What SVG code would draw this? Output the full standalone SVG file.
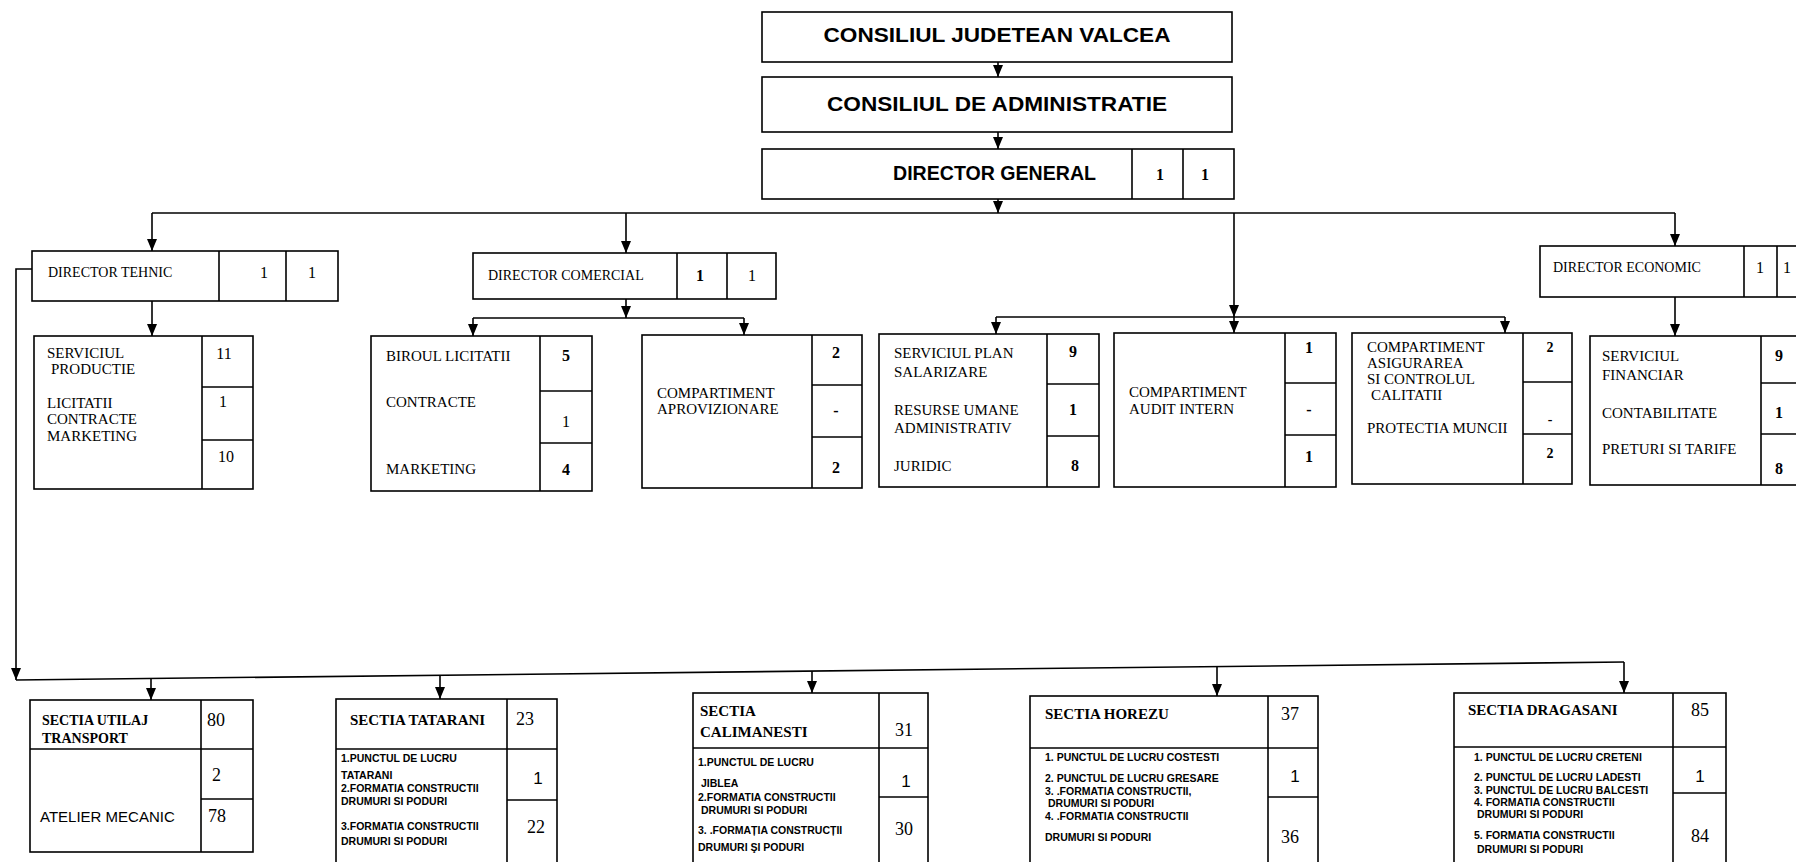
<svg xmlns="http://www.w3.org/2000/svg" width="1796" height="862" viewBox="0 0 1796 862">
<defs>
<marker id="ah" markerUnits="userSpaceOnUse" markerWidth="10" markerHeight="12" refX="5" refY="12" orient="0" viewBox="0 0 10 12">
<path d="M0,0 L10,0 L5,12 Z" fill="#000"/>
</marker>
<style>
.box{fill:#fff;stroke:#000;stroke-width:1.6}
.ln{stroke:#000;stroke-width:1.6;fill:none}
.c{stroke:#000;stroke-width:1.6;fill:none;marker-end:url(#ah)}
.h{font-family:"Liberation Sans",Arial,sans-serif;font-weight:bold;font-size:20px}
.t{font-family:"Liberation Serif","Times New Roman",serif;font-size:15px}
.d{font-family:"Liberation Serif","Times New Roman",serif;font-size:14px}
.tb{font-family:"Liberation Serif","Times New Roman",serif;font-size:15px;font-weight:bold}
.n{font-family:"Liberation Serif","Times New Roman",serif;font-size:16px;text-anchor:middle}
.nb{font-family:"Liberation Serif","Times New Roman",serif;font-size:16px;font-weight:bold;text-anchor:middle}
.N{font-family:"Liberation Serif","Times New Roman",serif;font-size:18px}
.s{font-family:"Liberation Sans",Arial,sans-serif;font-weight:bold;font-size:10.5px}
.ns{font-family:"Liberation Sans",Arial,sans-serif;font-size:17px;text-anchor:middle}
.a{font-family:"Liberation Sans",Arial,sans-serif;font-size:15px}
</style>
</defs>

<g id="connectors">
<line class="c" x1="998" y1="62" x2="998" y2="77"/>
<line class="c" x1="998" y1="132" x2="998" y2="149"/>
<line class="c" x1="998" y1="199" x2="998" y2="213"/>
<polyline class="ln" points="152,213 1675,213"/>
<line class="c" x1="152" y1="213" x2="152" y2="251"/>
<line class="c" x1="626" y1="213" x2="626" y2="253"/>
<line class="c" x1="1675" y1="213" x2="1675" y2="246"/>
<line class="c" x1="1234" y1="213" x2="1234" y2="317"/>
<polyline class="ln" points="996,317 1505,317"/>
<line class="c" x1="996" y1="317" x2="996" y2="334"/>
<line class="c" x1="1234" y1="317" x2="1234" y2="333"/>
<line class="c" x1="1505" y1="317" x2="1505" y2="333"/>
<line class="c" x1="152" y1="301" x2="152" y2="336"/>
<line class="c" x1="626" y1="299" x2="626" y2="318"/>
<polyline class="ln" points="473,318 744,318"/>
<line class="c" x1="473" y1="318" x2="473" y2="336"/>
<line class="c" x1="744" y1="318" x2="744" y2="335"/>
<line class="c" x1="1675" y1="297" x2="1675" y2="336"/>
<polyline class="c" points="32,269 16,269 16,680"/>
<polyline class="ln" points="16,680 1624,662"/>
<line class="c" x1="151" y1="678" x2="151" y2="700"/>
<line class="c" x1="440" y1="675" x2="440" y2="699"/>
<line class="c" x1="812" y1="671" x2="812" y2="693"/>
<line class="c" x1="1217" y1="667" x2="1217" y2="696"/>
<line class="c" x1="1624" y1="662" x2="1624" y2="693"/>
</g>

<g id="consiliul-judetean">
<rect class="box" x="762" y="12" width="470" height="50"/>
<text class="h" x="997" y="42" text-anchor="middle" textLength="347" lengthAdjust="spacingAndGlyphs">CONSILIUL JUDETEAN VALCEA</text>
</g>
<g id="consiliul-administratie">
<rect class="box" x="762" y="77" width="470" height="55"/>
<text class="h" x="997" y="111" text-anchor="middle" textLength="340" lengthAdjust="spacingAndGlyphs">CONSILIUL DE ADMINISTRATIE</text>
</g>
<g id="director-general">
<rect class="box" x="762" y="149" width="472" height="50"/>
<line class="ln" x1="1132" y1="149" x2="1132" y2="199"/>
<line class="ln" x1="1183" y1="149" x2="1183" y2="199"/>
<text class="h" x="893" y="180" textLength="203" lengthAdjust="spacingAndGlyphs">DIRECTOR GENERAL</text>
<text class="nb" x="1160" y="180">1</text>
<text class="nb" x="1205" y="180">1</text>
</g>

<g id="director-tehnic">
<rect class="box" x="32" y="251" width="306" height="50"/>
<line class="ln" x1="219" y1="251" x2="219" y2="301"/>
<line class="ln" x1="286" y1="251" x2="286" y2="301"/>
<text class="d" x="48" y="277">DIRECTOR TEHNIC</text>
<text class="n" x="264" y="278">1</text>
<text class="n" x="312" y="278">1</text>
</g>
<g id="director-comercial">
<rect class="box" x="473" y="253" width="303" height="46"/>
<line class="ln" x1="677" y1="253" x2="677" y2="299"/>
<line class="ln" x1="727" y1="253" x2="727" y2="299"/>
<text class="d" x="488" y="280">DIRECTOR COMERCIAL</text>
<text class="nb" x="700" y="281">1</text>
<text class="n" x="752" y="281">1</text>
</g>
<g id="director-economic">
<rect class="box" x="1540" y="246" width="270" height="51"/>
<line class="ln" x1="1744" y1="246" x2="1744" y2="297"/>
<line class="ln" x1="1777" y1="246" x2="1777" y2="297"/>
<text class="d" x="1553" y="272">DIRECTOR ECONOMIC</text>
<text class="n" x="1760" y="273">1</text>
<text class="n" x="1787" y="273">1</text>
</g>

<g id="serviciul-productie">
<rect class="box" x="34" y="336" width="219" height="153"/>
<line class="ln" x1="202" y1="336" x2="202" y2="489"/>
<line class="ln" x1="202" y1="387" x2="253" y2="387"/>
<line class="ln" x1="202" y1="440" x2="253" y2="440"/>
<text class="t" x="47" y="358">SERVICIUL</text>
<text class="t" x="51" y="374">PRODUCTIE</text>
<text class="t" x="47" y="408">LICITATII</text>
<text class="t" x="47" y="424">CONTRACTE</text>
<text class="t" x="47" y="441">MARKETING</text>
<text class="n" x="224" y="359">11</text>
<text class="n" x="223" y="407">1</text>
<text class="n" x="226" y="462">10</text>
</g>

<g id="biroul-licitatii">
<rect class="box" x="371" y="336" width="221" height="155"/>
<line class="ln" x1="540" y1="336" x2="540" y2="491"/>
<line class="ln" x1="540" y1="391" x2="592" y2="391"/>
<line class="ln" x1="540" y1="443" x2="592" y2="443"/>
<text class="t" x="386" y="361">BIROUL LICITATII</text>
<text class="t" x="386" y="407">CONTRACTE</text>
<text class="t" x="386" y="474">MARKETING</text>
<text class="nb" x="566" y="361">5</text>
<text class="n" x="566" y="427">1</text>
<text class="nb" x="566" y="475">4</text>
</g>

<g id="compartiment-aprovizionare">
<rect class="box" x="642" y="335" width="220" height="153"/>
<line class="ln" x1="812" y1="335" x2="812" y2="488"/>
<line class="ln" x1="812" y1="385" x2="862" y2="385"/>
<line class="ln" x1="812" y1="437" x2="862" y2="437"/>
<text class="t" x="657" y="398">COMPARTIMENT</text>
<text class="t" x="657" y="414">APROVIZIONARE</text>
<text class="nb" x="836" y="358">2</text>
<text class="nb" x="836" y="416">-</text>
<text class="nb" x="836" y="473">2</text>
</g>

<g id="serviciul-plan">
<rect class="box" x="879" y="334" width="220" height="153"/>
<line class="ln" x1="1047" y1="334" x2="1047" y2="487"/>
<line class="ln" x1="1047" y1="384" x2="1099" y2="384"/>
<line class="ln" x1="1047" y1="436" x2="1099" y2="436"/>
<text class="t" x="894" y="358">SERVICIUL PLAN</text>
<text class="t" x="894" y="377">SALARIZARE</text>
<text class="t" x="894" y="415">RESURSE UMANE</text>
<text class="t" x="894" y="433">ADMINISTRATIV</text>
<text class="t" x="894" y="471">JURIDIC</text>
<text class="nb" x="1073" y="357">9</text>
<text class="nb" x="1073" y="415">1</text>
<text class="nb" x="1075" y="471">8</text>
</g>

<g id="audit-intern">
<rect class="box" x="1114" y="333" width="222" height="154"/>
<line class="ln" x1="1285" y1="333" x2="1285" y2="487"/>
<line class="ln" x1="1285" y1="383" x2="1336" y2="383"/>
<line class="ln" x1="1285" y1="435" x2="1336" y2="435"/>
<text class="t" x="1129" y="397">COMPARTIMENT</text>
<text class="t" x="1129" y="414">AUDIT INTERN</text>
<text class="nb" x="1309" y="353">1</text>
<text class="nb" x="1309" y="415">-</text>
<text class="nb" x="1309" y="462">1</text>
</g>

<g id="asigurarea-calitatii">
<rect class="box" x="1352" y="333" width="220" height="151"/>
<line class="ln" x1="1523" y1="333" x2="1523" y2="484"/>
<line class="ln" x1="1523" y1="382" x2="1572" y2="382"/>
<line class="ln" x1="1523" y1="434" x2="1572" y2="434"/>
<text class="t" x="1367" y="352">COMPARTIMENT</text>
<text class="t" x="1367" y="368">ASIGURAREA</text>
<text class="t" x="1367" y="384">SI CONTROLUL</text>
<text class="t" x="1371" y="400">CALITATII</text>
<text class="t" x="1367" y="433">PROTECTIA MUNCII</text>
<text class="nb" x="1550" y="352" style="font-size:14px">2</text>
<text class="nb" x="1550" y="424" style="font-size:14px">-</text>
<text class="nb" x="1550" y="458" style="font-size:14px">2</text>
</g>

<g id="serviciul-financiar">
<rect class="box" x="1590" y="336" width="220" height="149"/>
<line class="ln" x1="1761" y1="336" x2="1761" y2="485"/>
<line class="ln" x1="1761" y1="383" x2="1810" y2="383"/>
<line class="ln" x1="1761" y1="434" x2="1810" y2="434"/>
<text class="t" x="1602" y="361">SERVICIUL</text>
<text class="t" x="1602" y="380">FINANCIAR</text>
<text class="t" x="1602" y="418">CONTABILITATE</text>
<text class="t" x="1602" y="454">PRETURI SI TARIFE</text>
<text class="nb" x="1779" y="361">9</text>
<text class="nb" x="1779" y="418">1</text>
<text class="nb" x="1779" y="474">8</text>
</g>

<g id="sectia-utilaj">
<rect class="box" x="30" y="700" width="223" height="152"/>
<line class="ln" x1="201" y1="700" x2="201" y2="852"/>
<line class="ln" x1="30" y1="749" x2="253" y2="749"/>
<line class="ln" x1="201" y1="799" x2="253" y2="799"/>
<text class="tb" x="42" y="725" style="font-size:14px">SECTIA UTILAJ</text>
<text class="tb" x="42" y="743" style="font-size:14px">TRANSPORT</text>
<text class="N" x="207" y="726">80</text>
<text class="N" x="212" y="781">2</text>
<text class="a" x="40" y="822">ATELIER MECANIC</text>
<text class="N" x="208" y="822">78</text>
</g>

<g id="sectia-tatarani">
<rect class="box" x="336" y="699" width="221" height="180"/>
<line class="ln" x1="507" y1="699" x2="507" y2="879"/>
<line class="ln" x1="336" y1="749" x2="557" y2="749"/>
<line class="ln" x1="507" y1="800" x2="557" y2="800"/>
<text class="tb" x="350" y="725">SECTIA TATARANI</text>
<text class="N" x="516" y="725">23</text>
<text class="s" x="341" y="762">1.PUNCTUL DE LUCRU</text>
<text class="s" x="341" y="779">TATARANI</text>
<text class="s" x="341" y="792">2.FORMATIA CONSTRUCTII</text>
<text class="s" x="341" y="805">DRUMURI SI PODURI</text>
<text class="s" x="341" y="830">3.FORMATIA CONSTRUCTII</text>
<text class="s" x="341" y="845">DRUMURI SI PODURI</text>
<text class="ns" x="538" y="784">1</text>
<text class="N" x="536" y="833" text-anchor="middle">22</text>
</g>

<g id="sectia-calimanesti">
<rect class="box" x="693" y="693" width="235" height="186"/>
<line class="ln" x1="879" y1="693" x2="879" y2="879"/>
<line class="ln" x1="693" y1="748" x2="928" y2="748"/>
<line class="ln" x1="879" y1="797" x2="928" y2="797"/>
<text class="tb" x="700" y="716">SECTIA</text>
<text class="tb" x="700" y="737">CALIMANESTI</text>
<text class="N" x="904" y="736" text-anchor="middle">31</text>
<text class="s" x="698" y="766">1.PUNCTUL DE LUCRU</text>
<text class="s" x="701" y="787">JIBLEA</text>
<text class="s" x="698" y="801">2.FORMATIA CONSTRUCTII</text>
<text class="s" x="701" y="814">DRUMURI SI PODURI</text>
<text class="s" x="698" y="834">3. .FORMAȚIA CONSTRUCȚII</text>
<text class="s" x="698" y="851">DRUMURI ŞI PODURI</text>
<text class="ns" x="906" y="787">1</text>
<text class="N" x="904" y="835" text-anchor="middle">30</text>
</g>

<g id="sectia-horezu">
<rect class="box" x="1030" y="696" width="288" height="183"/>
<line class="ln" x1="1268" y1="696" x2="1268" y2="879"/>
<line class="ln" x1="1030" y1="748" x2="1318" y2="748"/>
<line class="ln" x1="1268" y1="797" x2="1318" y2="797"/>
<text class="tb" x="1045" y="719">SECTIA HOREZU</text>
<text class="N" x="1290" y="720" text-anchor="middle">37</text>
<text class="s" x="1045" y="761">1. PUNCTUL DE LUCRU COSTESTI</text>
<text class="s" x="1045" y="782">2. PUNCTUL DE LUCRU GRESARE</text>
<text class="s" x="1045" y="795">3. .FORMATIA CONSTRUCTII,</text>
<text class="s" x="1048" y="807">DRUMURI SI PODURI</text>
<text class="s" x="1045" y="820">4. .FORMATIA CONSTRUCTII</text>
<text class="s" x="1045" y="841">DRUMURI SI PODURI</text>
<text class="ns" x="1295" y="782">1</text>
<text class="N" x="1290" y="843" text-anchor="middle">36</text>
</g>

<g id="sectia-dragasani">
<rect class="box" x="1454" y="693" width="272" height="186"/>
<line class="ln" x1="1673" y1="693" x2="1673" y2="879"/>
<line class="ln" x1="1454" y1="747" x2="1726" y2="747"/>
<line class="ln" x1="1673" y1="793" x2="1726" y2="793"/>
<text class="tb" x="1468" y="715">SECTIA DRAGASANI</text>
<text class="N" x="1700" y="716" text-anchor="middle">85</text>
<text class="s" x="1474" y="761">1. PUNCTUL DE LUCRU CRETENI</text>
<text class="s" x="1474" y="781">2. PUNCTUL DE LUCRU LADESTI</text>
<text class="s" x="1474" y="794">3. PUNCTUL DE LUCRU BALCESTI</text>
<text class="s" x="1474" y="806">4. FORMATIA CONSTRUCTII</text>
<text class="s" x="1477" y="818">DRUMURI SI PODURI</text>
<text class="s" x="1474" y="839">5. FORMATIA CONSTRUCTII</text>
<text class="s" x="1477" y="853">DRUMURI SI PODURI</text>
<text class="ns" x="1700" y="782">1</text>
<text class="N" x="1700" y="842" text-anchor="middle">84</text>
</g>
</svg>
